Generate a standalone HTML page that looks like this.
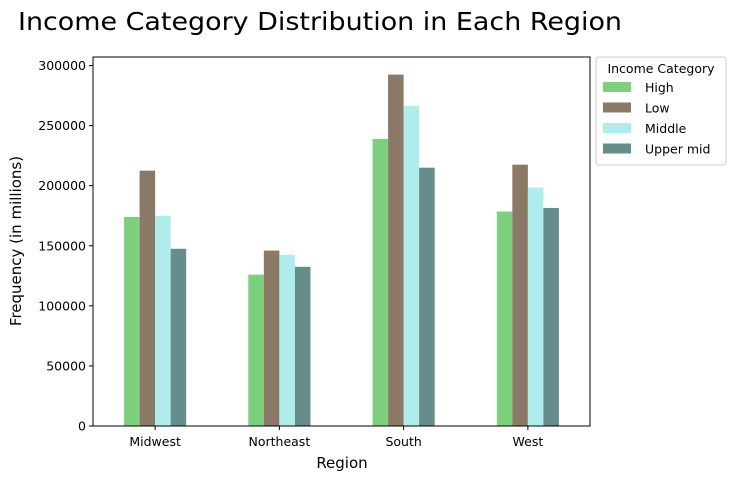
<!DOCTYPE html>
<html><head><meta charset="utf-8"><style>
body{margin:0;background:#fff;font-family:"Liberation Sans","DejaVu Sans",sans-serif}
svg text{font-family:"DejaVu Sans","Liberation Sans",sans-serif}
</style></head><body>
<svg id="chart" width="736" height="480" xmlns="http://www.w3.org/2000/svg">
<text x="18" y="30" font-size="25" textLength="604" lengthAdjust="spacingAndGlyphs">Income Category Distribution in Each Region</text>
<g id="bars"></g><g id="axes"></g>
<rect x="93" y="57" width="497" height="369" fill="none" stroke="#000" stroke-width="1"/>
<text x="342" y="468" text-anchor="middle" font-size="15">Region</text>
<text transform="translate(21,241) rotate(-90)" text-anchor="middle" font-size="15">Frequency (in millions)</text>
<g id="legend">
<rect x="596" y="57" width="130" height="108" fill="#fff" stroke="#ccc" rx="3"/>
<text x="661" y="73" text-anchor="middle" font-size="12.5">Income Category</text>
</g>
</svg>
<script>
const categories=["Midwest","Northeast","South","West"];
const seriesNames=["High","Low","Middle","Upper mid"];
const high=[174000,126000,239000,178500];
const low=[212500,146000,292500,217500];
const middle=[175000,142500,266500,198500];
const upperMid=[147500,132500,215000,181500];
const yTicks=[0,50000,100000,150000,200000,250000,300000];
const colors=["#7ccf7c","#8b7866","#afeded","#658d8b"];
const series=[high,low,middle,upperMid];
const NS="http://www.w3.org/2000/svg";
const L=93,R=590,T=57,B=426,ymax=Math.max(...series.flat())*1.05;
const x=i=>L+(i+0.5)*(R-L)/categories.length;
const unit=(R-L)/categories.length;
const y=v=>B-v/ymax*(B-T);
const bars=document.getElementById('bars'),axes=document.getElementById('axes'),leg=document.getElementById('legend');
function mk(t,a,p){const e=document.createElementNS(NS,t);for(const k in a)e.setAttribute(k,a[k]);p.appendChild(e);return e;}
series.forEach((s,j)=>s.forEach((v,i)=>{
 const bw=unit*0.125;
 const r=mk('rect',{x:x(i)-2*bw+j*bw,y:y(v),width:bw,height:B-y(v),fill:colors[j]},bars);
 
 
}));
yTicks.forEach(t=>{
 mk('line',{x1:L-4,x2:L,y1:y(t),y2:y(t),stroke:'#000'},axes);
 const tx=mk('text',{x:L-7,y:y(t)+4.5,'text-anchor':'end','font-size':12.5},axes);tx.textContent=t;
 
 
});
categories.forEach((c,i)=>{
 mk('line',{x1:x(i),x2:x(i),y1:B,y2:B+4,stroke:'#000'},axes);
 const tx=mk('text',{x:x(i),y:B+20,'text-anchor':'middle','font-size':12.5},axes);tx.textContent=c;
 
 
});
seriesNames.forEach((n,j)=>{
 const yy=82+j*20.5;
 const r=mk('rect',{x:603,y:yy,width:28,height:10,fill:colors[j]},leg);
 
 
 const tx=mk('text',{x:645,y:yy+10,'font-size':12.5},leg);tx.textContent=n;
 
 
});
</script>
</body></html>
